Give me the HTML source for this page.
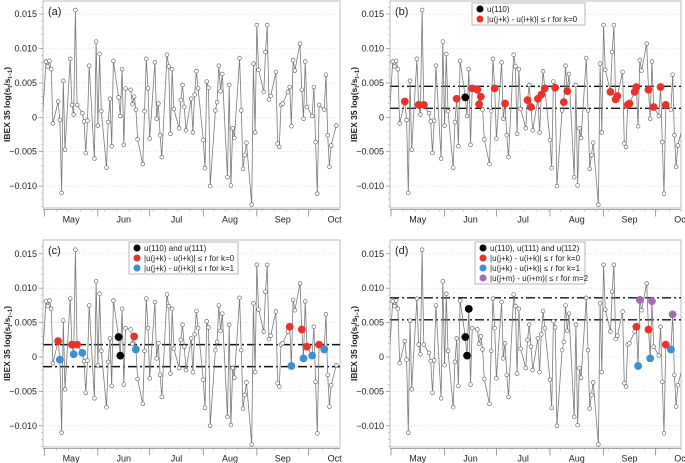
<!DOCTYPE html>
<html><head><meta charset="utf-8"><style>
body{margin:0;background:#fff}
svg{display:block;font-family:"Liberation Sans",sans-serif}
</style></head><body>
<svg id="chart" width="685" height="463" viewBox="0 0 685 463" xmlns="http://www.w3.org/2000/svg"></svg>
<script>
// trading days (days since May 1)
const days = [1,2,3,4,5,
8,9,10,11,12, 15,16,17,18,19, 22,23,24,25,26, 29,30,31,32,33,
36,37,38,39,40, 43,44,45,46,47, 50,51,52,53,54, 57,58,59,60,61,
64,65,66,67,68, 71,72,73,74,75, 78,79,80,81,82, 85,86,87,88,89,
92,93,94,95,96, 99,100,101,102,103, 106,107,108,109,110, 113,114,115,116,117,
120,121,122,123,124, 127,128,129,130,131, 134,135,136,137,138, 141,142,143,144,145,
148,149,150,151,152, 155,156,157,158,159, 162,163,164,165,166, 169];
const returns = [0.0081,0.0074,0.0082,0.0070,-0.0009,
0.0023,-0.0004,-0.0110,0.0053,-0.0047,
0.0085,0.0018,0.0004,0.0156,0.0018,
0.0006,-0.0006,-0.0052,-0.0005,0.0075,
-0.0060,0.0110,-0.0012,0.0092,0.0009,
-0.0073,-0.0007,0.0027,-0.0042,0.0082,
0.0029,0.0002,0.0070,-0.0040,0.0042,
0.0040,0.0019,0.0030,0.0011,-0.0032,
-0.0068,0.0009,0.0085,0.0042,-0.0031,
0.0080,-0.0002,0.0020,-0.0026,-0.0058,
0.0091,0.0074,-0.0024,0.0070,0.0012,
-0.0016,0.0025,0.0047,0.0015,-0.0019,
0.0027,-0.0022,0.0033,0.0067,0.0042,
-0.0033,-0.0074,0.0052,0.0043,-0.0100,
0.0010,0.0022,0.0075,0.0038,0.0063,
-0.0087,0.0047,-0.0099,-0.0016,-0.0030,
0.0086,0.0010,-0.0075,-0.0055,-0.0037,
-0.0127,0.0078,-0.0022,0.0134,0.0069,
0.0037,0.0095,0.0134,0.0026,0.0031,
0.0066,-0.0038,-0.0043,0.0018,0.0020,
0.0037,0.0044,-0.0013,0.0083,0.0068,
0.0107,0.0040,-0.0002,0.0081,0.0015,
0.0002,0.0044,-0.0036,-0.0111,0.0018,
0.0011,0.0062,-0.0026,-0.0072,-0.0041,
-0.0012];
const refIndex = 30;        // u(110)
const tolerance = 0.0016;   // r
const yTicks = [0.015,0.010,0.005,0,-0.005,-0.010];
const yTickLabels = ["0.015","0.010","0.005","0","\u22120.005","\u22120.010"];
const monthStarts = [0,31,61,92,123,153];
const monthNames = ["May","Jun","Jul","Aug","Sep","Oct"];

const NS="http://www.w3.org/2000/svg";
const svg=document.getElementById('chart');
function mk(tag,attrs,parent){const e=document.createElementNS(NS,tag);for(const k in attrs)e.setAttribute(k,attrs[k]);(parent||svg).appendChild(e);return e;}

const panels=[
 {id:'a',fx:43,fy:1,fw:297,fh:207,x0:44.3,y0:117.3,mode:0},
 {id:'b',fx:390,fy:1,fw:291,fh:207,x0:391,y0:117.3,mode:1},
 {id:'c',fx:43,fy:240,fw:297,fh:207,x0:44.3,y0:357,mode:2},
 {id:'d',fx:390,fy:240,fw:291,fh:207,x0:391,y0:357,mode:3}
];
const PXD=1.728, PXV=6880;
const RED="#e8322a",BLUE="#3b8fd2",PURPLE="#a56ab9";

panels.forEach(p=>{
 const X=d=>p.x0+d*PXD, Y=v=>p.y0-v*PXV;
 const g=mk('g',{});
 
 
 const cid='clip'+p.id;
 const cp=mk('clipPath',{id:cid},g);mk('rect',{x:p.fx,y:p.fy,width:p.fw,height:p.fh},cp);
 yTicks.forEach((t,i)=>{
  const gl=mk('line',{x1:p.fx,x2:p.fx+p.fw,y1:Y(t),y2:Y(t),stroke:'#ccc','stroke-width':0.6,'stroke-dasharray':'1,2'},g);
  
  
  mk('line',{x1:p.fx-4,x2:p.fx,y1:Y(t),y2:Y(t),stroke:'#888','stroke-width':0.7},g);
  const tl=mk('text',{x:p.fx-6,y:Y(t)+3,'text-anchor':'end','font-size':9,fill:'#222'},g);
  tl.textContent=yTickLabels[i];
  
  
 });
 for(let v=-0.013;v<=0.0165;v+=0.001){mk('line',{x1:p.fx-2,x2:p.fx,y1:Y(v),y2:Y(v),stroke:'#999','stroke-width':0.5},g);}
 const fr=mk('rect',{x:p.fx,y:p.fy,width:p.fw,height:p.fh,fill:'none',stroke:'#aaa','stroke-width':0.8},g);
 
 
 const ay=p.fy+p.fh+1.5;
 mk('line',{x1:p.fx,x2:p.fx+p.fw,y1:ay,y2:ay,stroke:'#888','stroke-width':0.7},g);
 for(let d=0;d<=171;d+=7){mk('line',{x1:X(d),x2:X(d),y1:ay,y2:ay+2,stroke:'#999','stroke-width':0.5},g);}
 monthStarts.forEach((m,i)=>{
  mk('line',{x1:X(m),x2:X(m),y1:ay,y2:ay+7,stroke:'#777','stroke-width':0.7},g);
  const mid=i<5?(m+monthStarts[i+1])/2:m+15;
  const t=mk('text',{x:X(mid),y:ay+13,'text-anchor':'middle','font-size':9,fill:'#222'},g);
  t.textContent=monthNames[i];
  
  
 });
 const yt=mk('text',{transform:`translate(${p.fx-33},${(p.fy+p.fy+p.fh)/2}) rotate(-90)`,'text-anchor':'middle','font-size':8.5,'font-weight':'bold',fill:'#222'},g);
 yt.innerHTML='IBEX 35 log(s<tspan font-size="6" dy="2">t</tspan><tspan dy="-2">/s</tspan><tspan font-size="6" dy="2">t−1</tspan><tspan dy="-2">)</tspan>';
 
 
 const pl=mk('text',{x:p.fx+5,y:p.fy+14,'font-size':11,fill:'#222'},g);
 pl.textContent='('+p.id+')';
 
 

 const cg=mk('g',{'clip-path':`url(#${cid})`},g);
 if(p.mode>0){
  const center=returns[refIndex+p.mode-1];
  [center+tolerance,center-tolerance].forEach(v=>{
   const l=mk('line',{x1:p.fx,x2:p.fx+p.fw,y1:Y(v),y2:Y(v),stroke:'#111','stroke-width':1.4,'stroke-dasharray':'9,3,2,3'},cg);
   
   
  });
 }
 let dstr='M'+X(-1)+','+Y(0);
 days.forEach((d,i)=>{dstr+=' L'+X(d).toFixed(1)+','+Y(returns[i]).toFixed(1);});
 const pa=mk('path',{d:dstr,fill:'none',stroke:'#7a7a7a','stroke-width':0.8},cg);
 
 
 days.forEach((d,i)=>{
  const c=mk('circle',{cx:X(d),cy:Y(returns[i]),r:1.9,fill:'#fff',stroke:'#555','stroke-width':0.6},cg);
  
  
 });
 const dot=(i,col,name)=>{
  const c=mk('circle',{cx:X(days[i]),cy:Y(returns[i]),r:3.9,fill:col},cg);
  
  
 };
 if(p.mode>0){
  const m=p.mode;
  for(let j=0;j+m-1<returns.length;j++){
   if(j===refIndex)continue;
   let ok=true;
   for(let k=0;k<m;k++){if(Math.abs(returns[j+k]-returns[refIndex+k])>tolerance){ok=false;break;}}
   if(!ok)continue;
   dot(j,RED,'match-k0');
   if(m>=2)dot(j+1,BLUE,'match-k1');
   if(m>=3)dot(j+2,PURPLE,'match-m2');
  }
  for(let k=0;k<m;k++)dot(refIndex+k,'#000','reference-point');
 }
 const legends={1:{x:472,y:3,w:113,rows:[['#000','u(110)'],[RED,'|u(j+k) - u(i+k)| \u2264 r for k=0']]},
  2:{x:129,y:242,w:109,rows:[['#000','u(110) and u(111)'],[RED,'|u(j+k) - u(i+k)| \u2264 r for k=0'],[BLUE,'|u(j+k) - u(i+k)| \u2264 r for k=1']]},
  3:{x:475,y:242,w:110,rows:[['#000','u(110), u(111) and u(112)'],[RED,'|u(j+k) - u(i+k)| \u2264 r for k=0'],[BLUE,'|u(j+k) - u(i+k)| \u2264 r for k=1'],[PURPLE,'|u(j+m) - u(i+m)| \u2264 r for m=2']]}};
 const L=legends[p.mode];
 if(L){
  const lg=mk('g',{},g);
  
  
  mk('rect',{x:L.x,y:L.y,width:L.w,height:L.rows.length*10+2,fill:'#fff',stroke:'#999','stroke-width':0.7},lg);
  L.rows.forEach((r,i)=>{
   const cy=L.y+6+i*10;
   mk('circle',{cx:L.x+8,cy:cy,r:3.5,fill:r[0]},lg);
   const t=mk('text',{x:L.x+15,y:cy+3,'font-size':8,fill:'#222'},lg);
   t.textContent=r[1];
   
   
  });
 }
});
</script>
</body></html>
